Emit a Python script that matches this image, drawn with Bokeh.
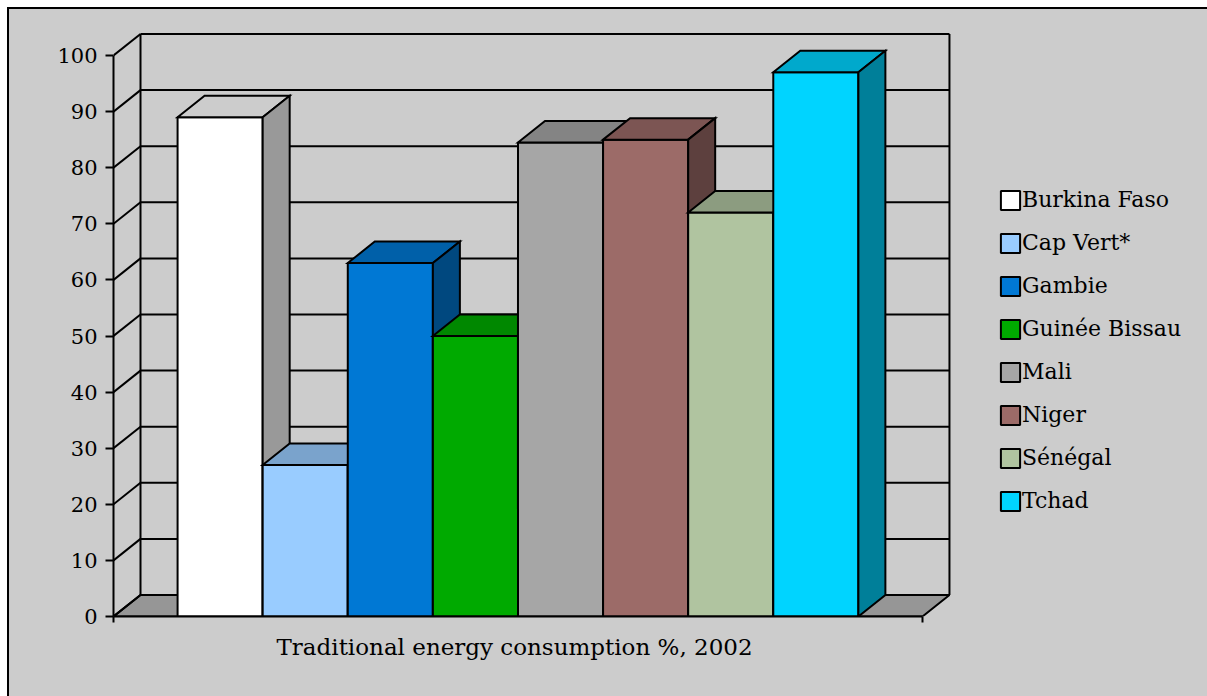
from bokeh.plotting import figure
from bokeh.models import Range1d, FixedTicker, Legend, LegendItem, Title
from bokeh.embed import file_html
from bokeh.resources import INLINE

# ---------------- data ----------------
countries = ["Burkina Faso", "Cap Vert*", "Gambie", "Guinée Bissau",
             "Mali", "Niger", "Sénégal", "Tchad"]
values = [89, 27, 63, 50, 84.5, 85, 72, 97]
colors = ["#FFFFFF", "#99CCFF", "#0078D4", "#00AA00",
          "#A6A6A6", "#9C6B68", "#B0C4A0", "#00D4FF"]
y_ticks = [0, 10, 20, 30, 40, 50, 60, 70, 80, 90, 100]
x_title = "Traditional energy consumption %, 2002"

# ---------------- geometry (pixels) ----------------
BAR_PX = 85.1       # pixels per bar width
Y_PX = 5.61         # pixels per percentage point
DX_PX, DY_PX = 27.0, 21.5   # 3-D depth offset
GAP = 0.753         # gap at each side, in bar widths
FRAME_W, FRAME_H = 849, 588
BG = "#CCCCCC"
FONT = "DejaVu Serif"

n = len(values)
x0, x1 = -GAP, n + GAP
dx = DX_PX / BAR_PX
dy = DY_PX / Y_PX
ymax = max(y_ticks)


def shade(hexcol, f):
    h = hexcol.lstrip("#")
    r, g, b = (int(h[i:i + 2], 16) for i in (0, 2, 4))
    return "#%02X%02X%02X" % (int(r * f), int(g * f), int(b * f))


p = figure(frame_width=FRAME_W, frame_height=FRAME_H,
           x_range=Range1d(x0, x0 + FRAME_W / BAR_PX),
           y_range=Range1d(0, FRAME_H / Y_PX),
           output_backend="svg", toolbar_location=None,
           min_border_left=104, min_border_top=19,
           min_border_right=245, min_border_bottom=80,
           background_fill_color=None, border_fill_color=None,
           outline_line_color=None)
p.styles = {"margin-left": "7px", "margin-top": "7px",
            "border-left": "2px solid black", "border-top": "2px solid black",
            "background-color": BG}
p.grid.visible = False

# ---------------- axes ----------------
ya = p.yaxis[0]
ya.bounds = (0, ymax)
ya.ticker = FixedTicker(ticks=y_ticks)
ya.minor_tick_line_color = None
ya.major_tick_in = 0
ya.major_tick_out = 8
ya.major_tick_line_width = 2
ya.axis_line_width = 2
ya.major_label_standoff = 8
ya.major_label_text_font = FONT
ya.major_label_text_font_size = "21px"
ya.major_label_text_color = "black"

xa = p.xaxis[0]
xa.bounds = (x0, x1)
xa.ticker = FixedTicker(ticks=[x0, x1])
xa.minor_tick_line_color = None
xa.major_tick_in = 0
xa.major_tick_out = 6
xa.major_tick_line_width = 2
xa.axis_line_width = 2
xa.major_label_overrides = {x0: "", x1: ""}
xa.major_label_standoff = 0

title = Title(text=x_title, align="left", offset=163, standoff=18,
              text_font=FONT, text_font_size="23px", text_font_style="normal",
              text_color="black")
p.add_layout(title, "below")

# ---------------- walls and floor ----------------
p.patch([x0, x0 + dx, x1 + dx, x1], [0, dy, dy, 0],
        fill_color="#969696", line_color="black", line_width=2)
# side-wall diagonals and back-wall gridlines
p.segment(x0=[x0] * len(y_ticks), y0=y_ticks,
          x1=[x0 + dx] * len(y_ticks), y1=[t + dy for t in y_ticks],
          line_color="black", line_width=2)
p.segment(x0=[x0 + dx] * len(y_ticks), y0=[t + dy for t in y_ticks],
          x1=[x1 + dx] * len(y_ticks), y1=[t + dy for t in y_ticks],
          line_color="black", line_width=2)
p.segment(x0=[x0 + dx, x1 + dx], y0=[dy, dy],
          x1=[x0 + dx, x1 + dx], y1=[ymax + dy, ymax + dy],
          line_color="black", line_width=2)

# ---------------- bars ----------------
items = []
for i, (name, v, c) in enumerate(zip(countries, values, colors)):
    front = p.quad(left=[i], right=[i + 1], bottom=[0], top=[v],
                   fill_color=c, line_color="black", line_width=2)
    p.patch([i, i + dx, i + 1 + dx, i + 1], [v, v + dy, v + dy, v],
            fill_color=shade(c, 0.8), line_color="black", line_width=2,
            line_join="miter")
    p.patch([i + 1, i + 1 + dx, i + 1 + dx, i + 1], [v, v + dy, dy, 0],
            fill_color=shade(c, 0.6), line_color="black", line_width=2,
            line_join="miter")
    items.append(LegendItem(label=name, renderers=[front]))

legend = Legend(items=items, location=(36, 103),
                glyph_width=24, glyph_height=24, label_height=24,
                label_standoff=0, spacing=18, padding=0, margin=0,
                border_line_color=None, background_fill_alpha=0,
                label_text_font=FONT, label_text_font_size="22px",
                label_text_color="black")
p.add_layout(legend, "right")

open("out.html", "w").write(file_html(p, INLINE))
